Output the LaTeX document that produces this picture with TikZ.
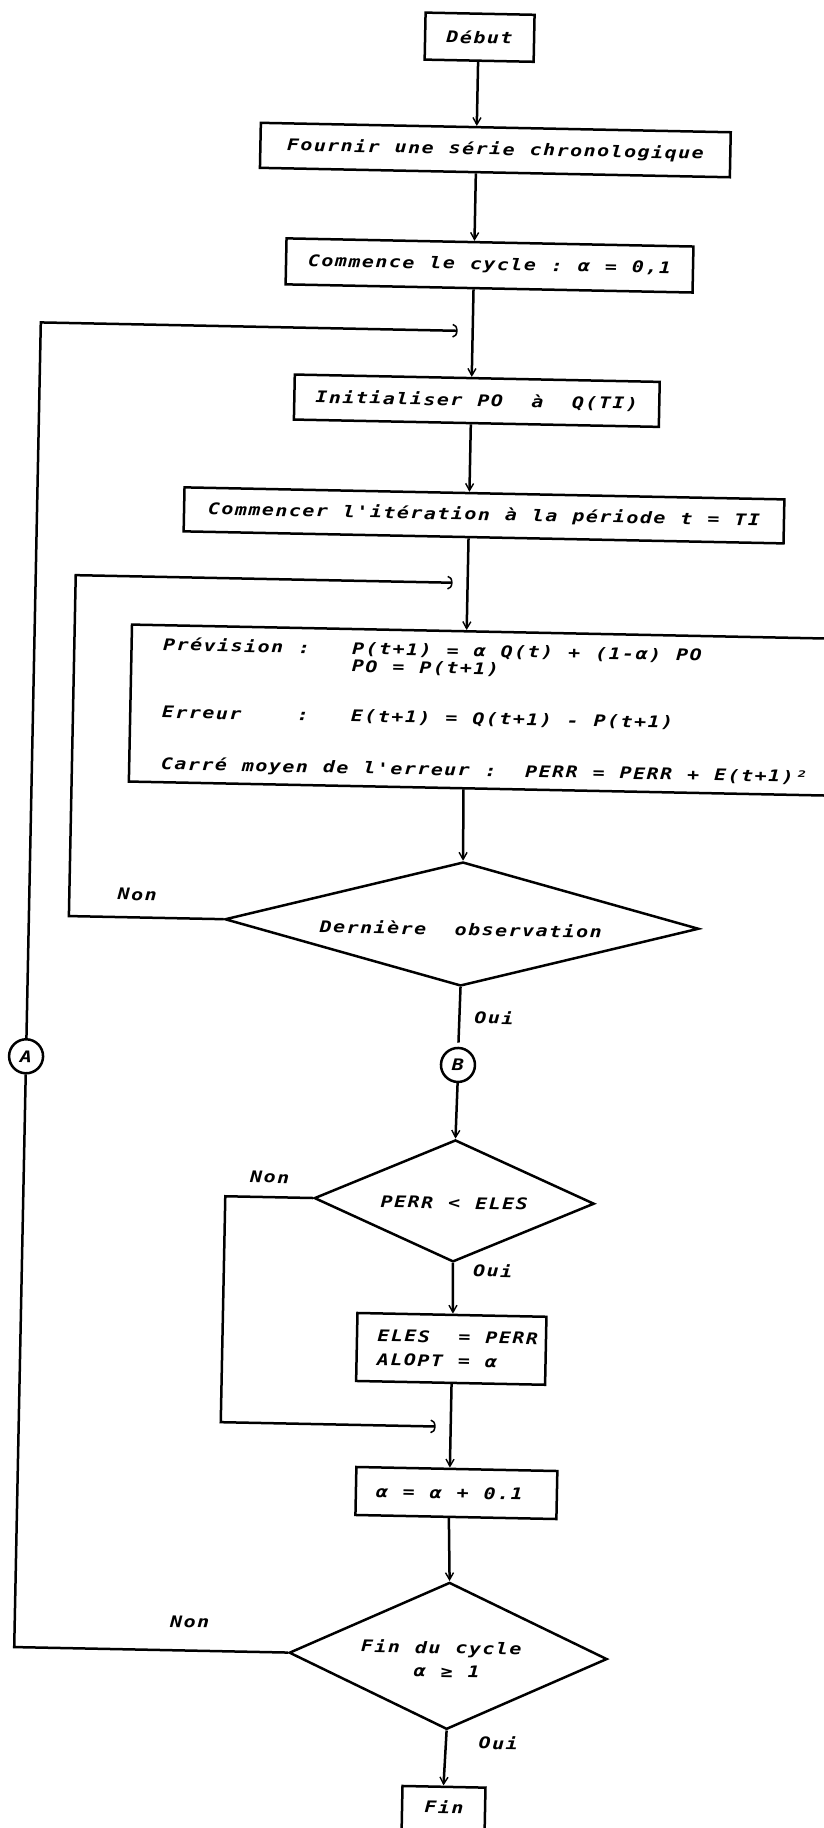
\documentclass[tikz,border=0pt]{standalone}
\usepackage{fontspec}
\newfontfamily\dm{DejaVu Sans Mono Bold Oblique}[FakeStretch=1.25]
\usetikzlibrary{arrows.meta,shapes.geometric}
\makeatletter
\newcommand\mono[1]{\@tfor\mch:=#1\do{\hbox to 13.5pt{\hss\mch\hss}}}
\makeatother
\tikzset{
  txt/.style={font=\dm\fontsize{16}{18}\selectfont, inner sep=0pt},
  box/.style={draw, rectangle, inner sep=0pt, txt},
  dia/.style={draw, diamond, inner sep=0pt},
  conn/.style={draw, circle, inner sep=0pt, minimum size=34, txt},
  varr/.style={-{Straight Barb[length=7pt,width=8pt,line width=1.4pt]}},
  harr/.style={-{Arc Barb[length=5pt,width=14pt,line width=1.5pt]}},
}
\begin{document}
\begin{tikzpicture}[x=1pt,y=-1pt,line width=2.5pt]
\useasboundingbox (0,0) rectangle (824,1828);
\clip (0,0) rectangle (824,1828);
\begin{scope}[rotate around={-1.15:(412,914)}, transform shape]
\coordinate (ax) at (461,0);
% boxes
\node[box, minimum width=109, minimum height=47] (debut) at (462,36) {\mono{Début}};
\node[box, minimum width=470, minimum height=45] (fournir) at (480,148.5) {\mono{Fournir~une~série~chronologique}};
\node[box, minimum width=407, minimum height=46] (comm) at (476.5,264) {\mono{Commence~le~cycle~:~α~=~0,1}};
\node[box, minimum width=365, minimum height=45] (init) at (466.5,399.5) {\mono{Initialiser~PO~~à~~Q(TI)}};
\node[box, minimum width=600, minimum height=44] (iter) at (476,514) {\mono{Commencer~l'itération~à~la~période~t~=~TI}};
\node[box, anchor=north west, minimum width=775, minimum height=157] (calc) at (125,629) {};
\node[txt, anchor=west] (l1) at (156,650) {\mono{Prévision~:~~~P(t+1)~=~α~Q(t)~+~(1-α)~PO}};
\node[txt, anchor=west] (l2) at (156,668) {\mono{~~~~~~~~~~~~~~PO~=~P(t+1)}};
\node[txt, anchor=west] (l3) at (156,718) {\mono{Erreur~~~~:~~~E(t+1)~=~Q(t+1)~-~P(t+1)}};
\node[txt, anchor=west] (l4) at (156,770) {\mono{Carré~moyen~de~l'erreur~:~~PERR~=~PERR~+~E(t+1)²}};
% decision 1
\node[dia, minimum width=474, minimum height=124] (d1) at (462,923) {};
\node[txt] (d1t) at (461,928) {\mono{Dernière~~observation}};
\node[txt] (non1) at (137,900) {\mono{Non}};
\node[txt] (oui1) at (496,1016) {\mono{Oui}};
\node[conn] (B) at (461,1064) {\mono{B}};
\node[conn] (A) at (29,1064) {\mono{A}};
% decision 2
\node[dia, minimum width=280, minimum height=122] (d2) at (460,1200) {};
\node[txt] (d2t) at (460,1202) {\mono{PERR~<~ELES}};
\node[txt] (non2) at (275,1180) {\mono{Non}};
\node[txt] (oui2) at (500,1269) {\mono{Oui}};
\node[box, minimum width=189, minimum height=68] (eles) at (460,1348) {};
\node[txt, anchor=west] (e1) at (384,1336) {\mono{ELES~~=~PERR}};
\node[txt, anchor=west] (e2) at (384,1360) {\mono{ALOPT~=~α}};
\node[box, minimum width=201, minimum height=48] (alpha) at (468,1492) {};
\node[txt] (alt) at (461,1492) {\mono{α~=~α~+~0.1}};
% decision 3
\node[dia, minimum width=318, minimum height=147] (d3) at (463,1655) {};
\node[txt] (d3a) at (456,1648) {\mono{Fin~du~cycle}};
\node[txt] (d3b) at (462,1671) {\mono{α~≥~1}};
\node[txt] (non3) at (204,1626) {\mono{Non}};
\node[txt] (oui3) at (515,1741) {\mono{Oui}};
\node[box, minimum width=83, minimum height=80] (fin) at (461.5,1826) {};
\node[txt] (fint) at (462,1806) {\mono{Fin}};
% main flow
\draw[varr] (debut.south -| ax) -- (fournir.north -| ax);
\draw[varr] (fournir.south -| ax) -- (comm.north -| ax);
\draw[varr] (comm.south -| ax) -- (init.north -| ax);
\draw[varr] (init.south -| ax) -- (iter.north -| ax);
\draw[varr] (iter.south -| ax) -- (calc.north -| ax);
\draw[varr] (calc.south -| ax) -- (d1.north);
\draw[shorten >=4pt] (d1.south) -- (B.north);
\draw[varr] (B.south) -- (d2.north);
\draw[varr] (d2.south) -- (eles.north -| ax);
\draw[varr] (eles.south -| ax) -- (alpha.north -| ax);
\draw[varr] (alpha.south -| ax) -- (d3.north);
\draw[varr] (d3.south) -- (fin.north -| ax);
% loops
\coordinate (cA) at (29,330);
\coordinate (jA) at (446,330);
\draw (d3.west) -| (A.south);
\draw[harr] (A.north) -- (cA) -- (jA);
\coordinate (cB) at (69,582);
\coordinate (jB) at (446,582);
\draw[harr] (d1.west) -| (cB) -- (jB);
\coordinate (cC) at (231,1426);
\coordinate (jC) at (446,1426);
\draw[harr] (d2.west) -| (cC) -- (jC);
\end{scope}
\end{tikzpicture}
\end{document}
